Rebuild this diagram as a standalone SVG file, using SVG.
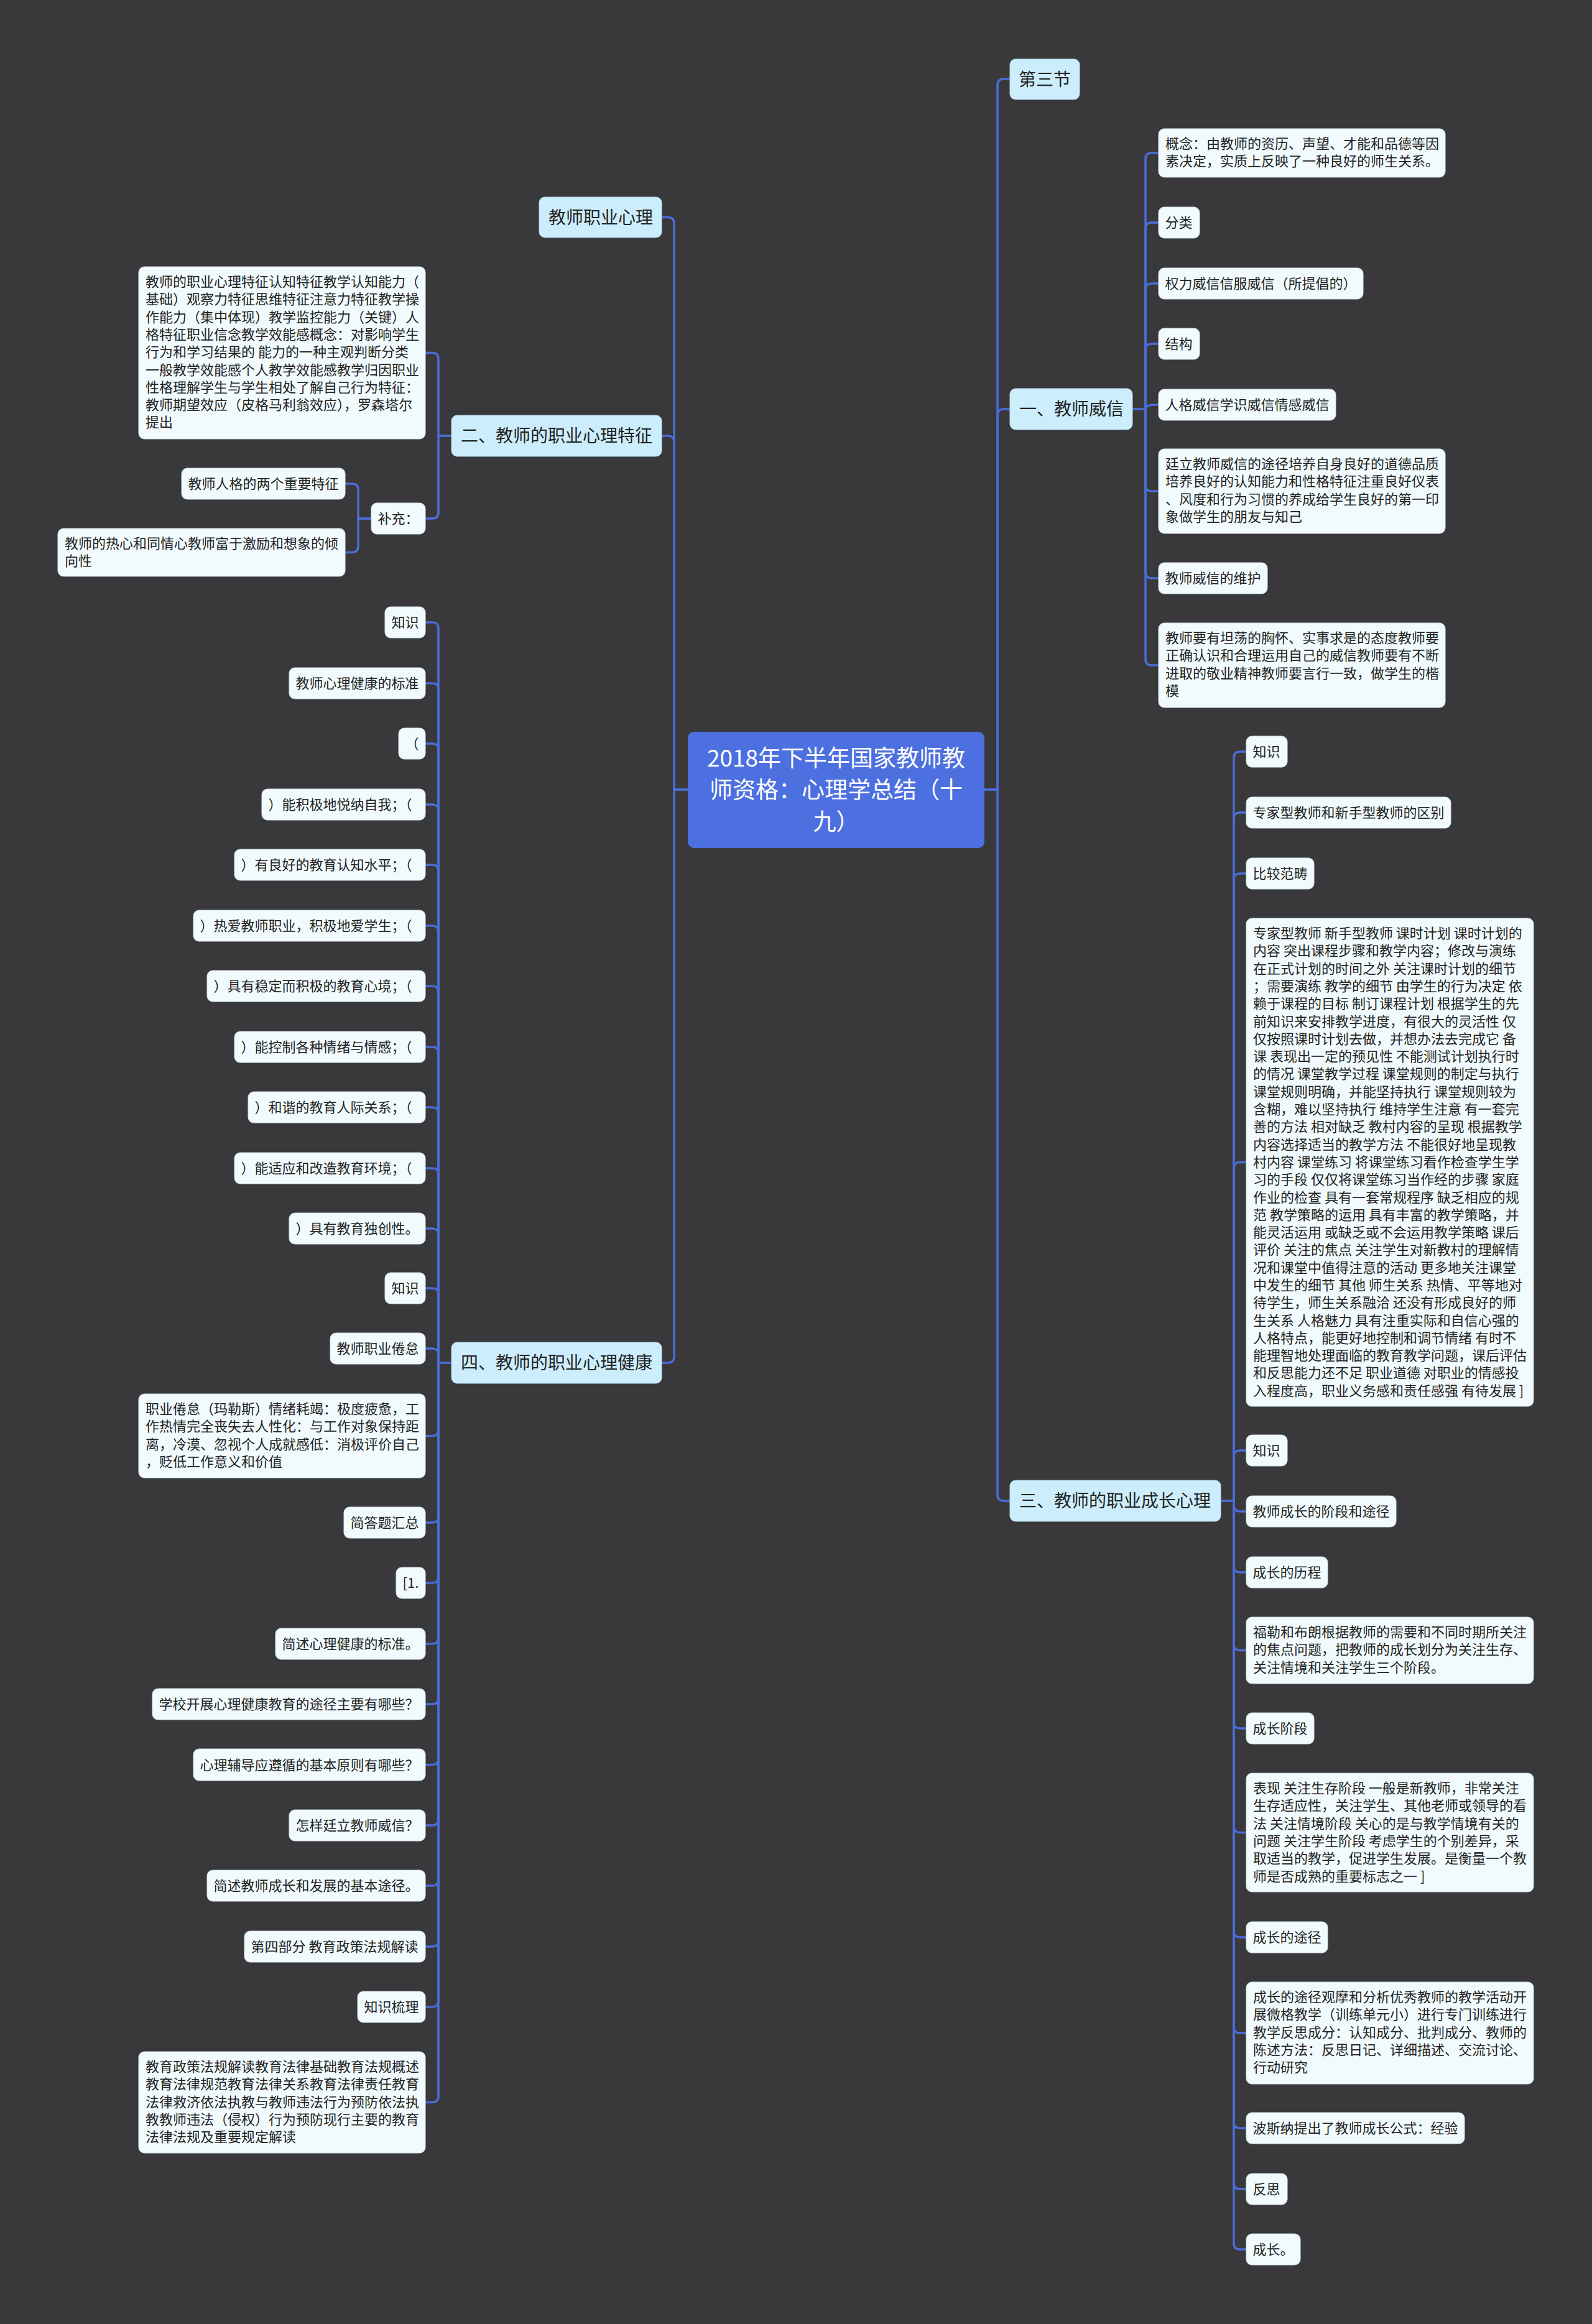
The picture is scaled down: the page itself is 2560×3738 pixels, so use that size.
<svg xmlns="http://www.w3.org/2000/svg" width="2560" height="3738" viewBox="0 0 2560 3738">
<style>
text{font-family:"Noto Sans CJK SC","Noto Sans",sans-serif;fill:#222}
.s{font-size:22px}
.b{font-size:28px}
.c{font-size:37px;fill:#fff}
.lf{fill:#f1fbfd;stroke:#d2e2e8;stroke-width:1}
.br{fill:#ccedfb;stroke:#b5dcec;stroke-width:1}
.ct{fill:#4d70e0}
.ln{fill:none;stroke:#4b6cd7;stroke-width:3.5}
</style>
<rect width="2560" height="3738" fill="#39383a"/>
<g id="connectors">
<!-- center to left branches -->
<path class="ln" d="M1064 349.5 H1074 Q1084 349.5 1084 359.5 V1270 H1106"/>
<path class="ln" d="M1064 701 H1074 Q1084 701 1084 711 V1270 H1106"/>
<path class="ln" d="M1064 2192 H1074 Q1084 2192 1084 2182 V1270 H1106"/>
<!-- center to right branches -->
<path class="ln" d="M1624 127 H1614 Q1604 127 1604 137 V1270 H1583"/>
<path class="ln" d="M1624 658 H1614 Q1604 658 1604 668 V1270 H1583"/>
<path class="ln" d="M1624 2414 H1614 Q1604 2414 1604 2404 V1270 H1583"/>
<!-- 二 children -->
<path class="ln" d="M684 567.5 H695 Q705 567.5 705 577.5 V701 H726"/>
<path class="ln" d="M684 834 H695 Q705 834 705 824 V701 H726"/>
<!-- 补充 children -->
<path class="ln" d="M555 778 H566 Q576 778 576 788 V834 H597"/>
<path class="ln" d="M555 888.5 H566 Q576 888.5 576 878.5 V834 H597"/>
<!-- 四 children -->
<path class="ln" d="M684 1001 H695 Q705 1001 705 1011 V2192 H726"/>
<path class="ln" d="M684 1099 H695 Q705 1099 705 1109 V2192"/>
<path class="ln" d="M684 1196 H695 Q705 1196 705 1206 V2192"/>
<path class="ln" d="M684 1294 H695 Q705 1294 705 1304 V2192"/>
<path class="ln" d="M684 1391 H695 Q705 1391 705 1401 V2192"/>
<path class="ln" d="M684 1489 H695 Q705 1489 705 1499 V2192"/>
<path class="ln" d="M684 1586 H695 Q705 1586 705 1596 V2192"/>
<path class="ln" d="M684 1684 H695 Q705 1684 705 1694 V2192"/>
<path class="ln" d="M684 1781 H695 Q705 1781 705 1791 V2192"/>
<path class="ln" d="M684 1879 H695 Q705 1879 705 1889 V2192"/>
<path class="ln" d="M684 1976 H695 Q705 1976 705 1986 V2192"/>
<path class="ln" d="M684 2072 H695 Q705 2072 705 2082 V2192"/>
<path class="ln" d="M684 2169 H695 Q705 2169 705 2179 V2192"/>
<path class="ln" d="M684 2309.5 H695 Q705 2309.5 705 2299.5 V2192"/>
<path class="ln" d="M684 2449 H695 Q705 2449 705 2439 V2192"/>
<path class="ln" d="M684 2546 H695 Q705 2546 705 2536 V2192"/>
<path class="ln" d="M684 2644 H695 Q705 2644 705 2634 V2192"/>
<path class="ln" d="M684 2741 H695 Q705 2741 705 2731 V2192"/>
<path class="ln" d="M684 2838.5 H695 Q705 2838.5 705 2828.5 V2192"/>
<path class="ln" d="M684 2936 H695 Q705 2936 705 2926 V2192"/>
<path class="ln" d="M684 3033 H695 Q705 3033 705 3023 V2192"/>
<path class="ln" d="M684 3131 H695 Q705 3131 705 3121 V2192"/>
<path class="ln" d="M684 3228 H695 Q705 3228 705 3218 V2192"/>
<path class="ln" d="M684 3381.5 H695 Q705 3381.5 705 3371.5 V2192"/>
<!-- 一 children -->
<path class="ln" d="M1863 246 H1852 Q1842 246 1842 256 V658 H1821"/>
<path class="ln" d="M1863 358 H1852 Q1842 358 1842 368 V658"/>
<path class="ln" d="M1863 456 H1852 Q1842 456 1842 466 V658"/>
<path class="ln" d="M1863 553 H1852 Q1842 553 1842 563 V658"/>
<path class="ln" d="M1863 651 C1849 651 1842 652 1842 658"/>
<path class="ln" d="M1863 790 H1852 Q1842 790 1842 780 V658"/>
<path class="ln" d="M1863 930 H1852 Q1842 930 1842 920 V658"/>
<path class="ln" d="M1863 1070 H1852 Q1842 1070 1842 1060 V658"/>
<!-- 三 children -->
<path class="ln" d="M2004 1209 H1994 Q1984 1209 1984 1219 V2414 H1963"/>
<path class="ln" d="M2004 1307 H1994 Q1984 1307 1984 1317 V2414"/>
<path class="ln" d="M2004 1405 H1994 Q1984 1405 1984 1415 V2414"/>
<path class="ln" d="M2004 1869.5 H1994 Q1984 1869.5 1984 1879.5 V2414"/>
<path class="ln" d="M2004 2333 H1994 Q1984 2333 1984 2343 V2414"/>
<path class="ln" d="M2004 2431 H1994 Q1984 2431 1984 2421 V2414"/>
<path class="ln" d="M2004 2529 H1994 Q1984 2529 1984 2519 V2414"/>
<path class="ln" d="M2004 2654.5 H1994 Q1984 2654.5 1984 2644.5 V2414"/>
<path class="ln" d="M2004 2780 H1994 Q1984 2780 1984 2770 V2414"/>
<path class="ln" d="M2004 2947.5 H1994 Q1984 2947.5 1984 2937.5 V2414"/>
<path class="ln" d="M2004 3116 H1994 Q1984 3116 1984 3106 V2414"/>
<path class="ln" d="M2004 3270 H1994 Q1984 3270 1984 3260 V2414"/>
<path class="ln" d="M2004 3423 H1994 Q1984 3423 1984 3413 V2414"/>
<path class="ln" d="M2004 3521 H1994 Q1984 3521 1984 3511 V2414"/>
<path class="ln" d="M2004 3618 H1994 Q1984 3618 1984 3608 V2414"/>
</g>

<g id="center"><rect class="ct" x="1106" y="1177" width="477" height="187" rx="10"/>
<text class="c" text-anchor="middle"><tspan x="1344.5" y="1233">2018年下半年国家教师教</tspan><tspan x="1344.5" y="1284">师资格：心理学总结（十</tspan><tspan x="1344.5" y="1335">九）</tspan></text></g>

<!-- left branches -->
<g id="b-zhiye"><rect class="br" x="867" y="317" width="197" height="65" rx="9"/><text class="b" x="882" y="359.5">教师职业心理</text></g>
<g id="b-er"><rect class="br" x="726" y="668" width="338" height="66" rx="9"/><text class="b" x="741" y="711">二、教师的职业心理特征</text></g>
<g id="b-si"><rect class="br" x="726" y="2159" width="338" height="66" rx="9"/><text class="b" x="741" y="2202">四、教师的职业心理健康</text></g>

<g id="n-er-big"><rect class="lf" x="223" y="429" width="461" height="277" rx="9"/>
<text class="s"><tspan x="234" y="461">教师的职业心理特征认知特征教学认知能力（</tspan><tspan x="234" dy="28.3">基础）观察力特征思维特征注意力特征教学操</tspan><tspan x="234" dy="28.3">作能力（集中体现）教学监控能力（关键）人</tspan><tspan x="234" dy="28.3">格特征职业信念教学效能感概念：对影响学生</tspan><tspan x="234" dy="28.3">行为和学习结果的 能力的一种主观判断分类</tspan><tspan x="234" dy="28.3">一般教学效能感个人教学效能感教学归因职业</tspan><tspan x="234" dy="28.3">性格理解学生与学生相处了解自己行为特征：</tspan><tspan x="234" dy="28.3">教师期望效应（皮格马利翁效应），罗森塔尔</tspan><tspan x="234" dy="28.3">提出</tspan></text></g>
<g id="n-buchong"><rect class="lf" x="597" y="809" width="87" height="50" rx="9"/><text class="s" x="607.5" y="842">补充：</text></g>
<g id="n-renge"><rect class="lf" x="292" y="753" width="263" height="50" rx="9"/><text class="s" x="302.5" y="786">教师人格的两个重要特征</text></g>
<g id="n-rexin"><rect class="lf" x="93" y="850" width="462" height="77" rx="9"/>
<text class="s"><tspan x="104" y="882">教师的热心和同情心教师富于激励和想象的倾</tspan><tspan x="104" dy="28.3">向性</tspan></text></g>

<!-- 四 children -->
<g id="n-si-1"><rect class="lf" x="619" y="976" width="65" height="50" rx="9"/><text class="s" x="629.5" y="1009">知识</text></g>
<g id="n-si-2"><rect class="lf" x="465" y="1074" width="219" height="50" rx="9"/><text class="s" x="475.5" y="1107">教师心理健康的标准</text></g>
<g id="n-si-3"><rect class="lf" x="641" y="1171" width="43" height="50" rx="9"/><text class="s" x="651.5" y="1204">（</text></g>
<g id="n-si-4"><rect class="lf" x="421" y="1269" width="263" height="50" rx="9"/><text class="s" x="431.5" y="1302">）能积极地悦纳自我；（</text></g>
<g id="n-si-5"><rect class="lf" x="377" y="1366" width="307" height="50" rx="9"/><text class="s" x="387.5" y="1399">）有良好的教育认知水平；（</text></g>
<g id="n-si-6"><rect class="lf" x="311" y="1464" width="373" height="50" rx="9"/><text class="s" x="321.5" y="1497">）热爱教师职业，积极地爱学生；（</text></g>
<g id="n-si-7"><rect class="lf" x="333" y="1561" width="351" height="50" rx="9"/><text class="s" x="343.5" y="1594">）具有稳定而积极的教育心境；（</text></g>
<g id="n-si-8"><rect class="lf" x="377" y="1659" width="307" height="50" rx="9"/><text class="s" x="387.5" y="1692">）能控制各种情绪与情感；（</text></g>
<g id="n-si-9"><rect class="lf" x="399" y="1756" width="285" height="50" rx="9"/><text class="s" x="409.5" y="1789">）和谐的教育人际关系；（</text></g>
<g id="n-si-10"><rect class="lf" x="377" y="1854" width="307" height="50" rx="9"/><text class="s" x="387.5" y="1887">）能适应和改造教育环境；（</text></g>
<g id="n-si-11"><rect class="lf" x="465" y="1951" width="219" height="50" rx="9"/><text class="s" x="475.5" y="1984">）具有教育独创性。</text></g>
<g id="n-si-12"><rect class="lf" x="619" y="2047" width="65" height="50" rx="9"/><text class="s" x="629.5" y="2080">知识</text></g>
<g id="n-si-13"><rect class="lf" x="531" y="2144" width="153" height="50" rx="9"/><text class="s" x="541.5" y="2177">教师职业倦怠</text></g>
<g id="n-si-14"><rect class="lf" x="223" y="2242" width="461" height="135" rx="9"/>
<text class="s"><tspan x="234" y="2274">职业倦怠（玛勒斯）情绪耗竭：极度疲惫，工</tspan><tspan x="234" dy="28.3">作热情完全丧失去人性化：与工作对象保持距</tspan><tspan x="234" dy="28.3">离，冷漠、忽视个人成就感低：消极评价自己</tspan><tspan x="234" dy="28.3">，贬低工作意义和价值</tspan></text></g>
<g id="n-si-15"><rect class="lf" x="553" y="2424" width="131" height="50" rx="9"/><text class="s" x="563.5" y="2457">简答题汇总</text></g>
<g id="n-si-16"><rect class="lf" x="637" y="2521" width="47" height="50" rx="9"/><text class="s" x="647.5" y="2554">[1.</text></g>
<g id="n-si-17"><rect class="lf" x="443" y="2619" width="241" height="50" rx="9"/><text class="s" x="453.5" y="2652">简述心理健康的标准。</text></g>
<g id="n-si-18"><rect class="lf" x="245" y="2716" width="439" height="50" rx="9"/><text class="s" x="255.5" y="2749">学校开展心理健康教育的途径主要有哪些？</text></g>
<g id="n-si-19"><rect class="lf" x="311" y="2813" width="373" height="51" rx="9"/><text class="s" x="321.5" y="2846.5">心理辅导应遵循的基本原则有哪些？</text></g>
<g id="n-si-20"><rect class="lf" x="465" y="2911" width="219" height="50" rx="9"/><text class="s" x="475.5" y="2944">怎样廷立教师威信？</text></g>
<g id="n-si-21"><rect class="lf" x="333" y="3008" width="351" height="50" rx="9"/><text class="s" x="343.5" y="3041">简述教师成长和发展的基本途径。</text></g>
<g id="n-si-22"><rect class="lf" x="393" y="3106" width="291" height="50" rx="9"/><text class="s" x="403.5" y="3139">第四部分 教育政策法规解读</text></g>
<g id="n-si-23"><rect class="lf" x="575" y="3203" width="109" height="50" rx="9"/><text class="s" x="585.5" y="3236">知识梳理</text></g>
<g id="n-si-24"><rect class="lf" x="223" y="3300" width="461" height="163" rx="9"/>
<text class="s"><tspan x="234" y="3332">教育政策法规解读教育法律基础教育法规概述</tspan><tspan x="234" dy="28.3">教育法律规范教育法律关系教育法律责任教育</tspan><tspan x="234" dy="28.3">法律救济依法执教与教师违法行为预防依法执</tspan><tspan x="234" dy="28.3">教教师违法（侵权）行为预防现行主要的教育</tspan><tspan x="234" dy="28.3">法律法规及重要规定解读</tspan></text></g>

<!-- right branches -->
<g id="b-disanjie"><rect class="br" x="1624" y="95" width="112" height="65" rx="9"/><text class="b" x="1638" y="137.5">第三节</text></g>
<g id="b-yi"><rect class="br" x="1624" y="625" width="197" height="66" rx="9"/><text class="b" x="1639" y="668">一、教师威信</text></g>
<g id="b-san"><rect class="br" x="1624" y="2381" width="339" height="66" rx="9"/><text class="b" x="1639" y="2424">三、教师的职业成长心理</text></g>

<!-- 一 children -->
<g id="n-yi-1"><rect class="lf" x="1863" y="207" width="461" height="78" rx="9"/>
<text class="s"><tspan x="1874" y="239">概念：由教师的资历、声望、才能和品德等因</tspan><tspan x="1874" dy="28.3">素决定，实质上反映了一种良好的师生关系。</tspan></text></g>
<g id="n-yi-2"><rect class="lf" x="1863" y="333" width="66" height="50" rx="9"/><text class="s" x="1873.5" y="366">分类</text></g>
<g id="n-yi-3"><rect class="lf" x="1863" y="431" width="329" height="50" rx="9"/><text class="s" x="1873.5" y="464">权力威信信服威信（所提倡的）</text></g>
<g id="n-yi-4"><rect class="lf" x="1863" y="528" width="66" height="50" rx="9"/><text class="s" x="1873.5" y="561">结构</text></g>
<g id="n-yi-5"><rect class="lf" x="1863" y="626" width="285" height="50" rx="9"/><text class="s" x="1873.5" y="659">人格威信学识威信情感威信</text></g>
<g id="n-yi-6"><rect class="lf" x="1863" y="722" width="461" height="136" rx="9"/>
<text class="s"><tspan x="1874" y="754">廷立教师威信的途径培养自身良好的道德品质</tspan><tspan x="1874" dy="28.3">培养良好的认知能力和性格特征注重良好仪表</tspan><tspan x="1874" dy="28.3">、风度和行为习惯的养成给学生良好的第一印</tspan><tspan x="1874" dy="28.3">象做学生的朋友与知己</tspan></text></g>
<g id="n-yi-7"><rect class="lf" x="1863" y="905" width="175" height="50" rx="9"/><text class="s" x="1873.5" y="938">教师威信的维护</text></g>
<g id="n-yi-8"><rect class="lf" x="1863" y="1002" width="461" height="136" rx="9"/>
<text class="s"><tspan x="1874" y="1034">教师要有坦荡的胸怀、实事求是的态度教师要</tspan><tspan x="1874" dy="28.3">正确认识和合理运用自己的威信教师要有不断</tspan><tspan x="1874" dy="28.3">进取的敬业精神教师要言行一致，做学生的楷</tspan><tspan x="1874" dy="28.3">模</tspan></text></g>

<!-- 三 children -->
<g id="n-san-1"><rect class="lf" x="2004" y="1184" width="66" height="50" rx="9"/><text class="s" x="2014.5" y="1217">知识</text></g>
<g id="n-san-2"><rect class="lf" x="2004" y="1282" width="329" height="50" rx="9"/><text class="s" x="2014.5" y="1315">专家型教师和新手型教师的区别</text></g>
<g id="n-san-3"><rect class="lf" x="2004" y="1380" width="109" height="50" rx="9"/><text class="s" x="2014.5" y="1413">比较范畴</text></g>
<g id="n-san-4"><rect class="lf" x="2004" y="1477" width="462" height="785" rx="9"/>
<text class="s"><tspan x="2015" y="1509">专家型教师 新手型教师 课时计划 课时计划的</tspan><tspan x="2015" dy="28.3">内容 突出课程步骤和教学内容；修改与演练</tspan><tspan x="2015" dy="28.3">在正式计划的时间之外 关注课时计划的细节</tspan><tspan x="2015" dy="28.3">；需要演练 教学的细节 由学生的行为决定 依</tspan><tspan x="2015" dy="28.3">赖于课程的目标 制订课程计划 根据学生的先</tspan><tspan x="2015" dy="28.3">前知识来安排教学进度，有很大的灵活性 仅</tspan><tspan x="2015" dy="28.3">仅按照课时计划去做，并想办法去完成它 备</tspan><tspan x="2015" dy="28.3">课 表现出一定的预见性 不能测试计划执行时</tspan><tspan x="2015" dy="28.3">的情况 课堂教学过程 课堂规则的制定与执行</tspan><tspan x="2015" dy="28.3">课堂规则明确，并能坚持执行 课堂规则较为</tspan><tspan x="2015" dy="28.3">含糊，难以坚持执行 维持学生注意 有一套完</tspan><tspan x="2015" dy="28.3">善的方法 相对缺乏 教村内容的呈现 根据教学</tspan><tspan x="2015" dy="28.3">内容选择适当的教学方法 不能很好地呈现教</tspan><tspan x="2015" dy="28.3">村内容 课堂练习 将课堂练习看作检查学生学</tspan><tspan x="2015" dy="28.3">习的手段 仅仅将课堂练习当作经的步骤 家庭</tspan><tspan x="2015" dy="28.3">作业的检查 具有一套常规程序 缺乏相应的规</tspan><tspan x="2015" dy="28.3">范 教学策略的运用 具有丰富的教学策略，并</tspan><tspan x="2015" dy="28.3">能灵活运用 或缺乏或不会运用教学策略 课后</tspan><tspan x="2015" dy="28.3">评价 关注的焦点 关注学生对新教村的理解情</tspan><tspan x="2015" dy="28.3">况和课堂中值得注意的活动 更多地关注课堂</tspan><tspan x="2015" dy="28.3">中发生的细节 其他 师生关系 热情、平等地对</tspan><tspan x="2015" dy="28.3">待学生，师生关系融洽 还没有形成良好的师</tspan><tspan x="2015" dy="28.3">生关系 人格魅力 具有注重实际和自信心强的</tspan><tspan x="2015" dy="28.3">人格特点，能更好地控制和调节情绪 有时不</tspan><tspan x="2015" dy="28.3">能理智地处理面临的教育教学问题，课后评估</tspan><tspan x="2015" dy="28.3">和反思能力还不足 职业道德 对职业的情感投</tspan><tspan x="2015" dy="28.3">入程度高，职业义务感和责任感强 有待发展 ]</tspan></text></g>
<g id="n-san-5"><rect class="lf" x="2004" y="2308" width="66" height="50" rx="9"/><text class="s" x="2014.5" y="2341">知识</text></g>
<g id="n-san-6"><rect class="lf" x="2004" y="2406" width="241" height="50" rx="9"/><text class="s" x="2014.5" y="2439">教师成长的阶段和途径</text></g>
<g id="n-san-7"><rect class="lf" x="2004" y="2504" width="131" height="50" rx="9"/><text class="s" x="2014.5" y="2537">成长的历程</text></g>
<g id="n-san-8"><rect class="lf" x="2004" y="2601" width="462" height="107" rx="9"/>
<text class="s"><tspan x="2015" y="2633">福勒和布朗根据教师的需要和不同时期所关注</tspan><tspan x="2015" dy="28.3">的焦点问题，把教师的成长划分为关注生存、</tspan><tspan x="2015" dy="28.3">关注情境和关注学生三个阶段。</tspan></text></g>
<g id="n-san-9"><rect class="lf" x="2004" y="2755" width="109" height="50" rx="9"/><text class="s" x="2014.5" y="2788">成长阶段</text></g>
<g id="n-san-10"><rect class="lf" x="2004" y="2852" width="462" height="191" rx="9"/>
<text class="s"><tspan x="2015" y="2884">表现 关注生存阶段 一般是新教师，非常关注</tspan><tspan x="2015" dy="28.3">生存适应性，关注学生、其他老师或领导的看</tspan><tspan x="2015" dy="28.3">法 关注情境阶段 关心的是与教学情境有关的</tspan><tspan x="2015" dy="28.3">问题 关注学生阶段 考虑学生的个别差异，采</tspan><tspan x="2015" dy="28.3">取适当的教学，促进学生发展。是衡量一个教</tspan><tspan x="2015" dy="28.3">师是否成熟的重要标志之一 ]</tspan></text></g>
<g id="n-san-11"><rect class="lf" x="2004" y="3091" width="131" height="50" rx="9"/><text class="s" x="2014.5" y="3124">成长的途径</text></g>
<g id="n-san-12"><rect class="lf" x="2004" y="3188" width="462" height="164" rx="9"/>
<text class="s"><tspan x="2015" y="3220">成长的途径观摩和分析优秀教师的教学活动开</tspan><tspan x="2015" dy="28.3">展微格教学（训练单元小）进行专门训练进行</tspan><tspan x="2015" dy="28.3">教学反思成分：认知成分、批判成分、教师的</tspan><tspan x="2015" dy="28.3">陈述方法：反思日记、详细描述、交流讨论、</tspan><tspan x="2015" dy="28.3">行动研究</tspan></text></g>
<g id="n-san-13"><rect class="lf" x="2004" y="3398" width="351" height="50" rx="9"/><text class="s" x="2014.5" y="3431">波斯纳提出了教师成长公式：经验</text></g>
<g id="n-san-14"><rect class="lf" x="2004" y="3496" width="66" height="50" rx="9"/><text class="s" x="2014.5" y="3529">反思</text></g>
<g id="n-san-15"><rect class="lf" x="2004" y="3593" width="87" height="50" rx="9"/><text class="s" x="2014.5" y="3626">成长。</text></g>
</svg>
